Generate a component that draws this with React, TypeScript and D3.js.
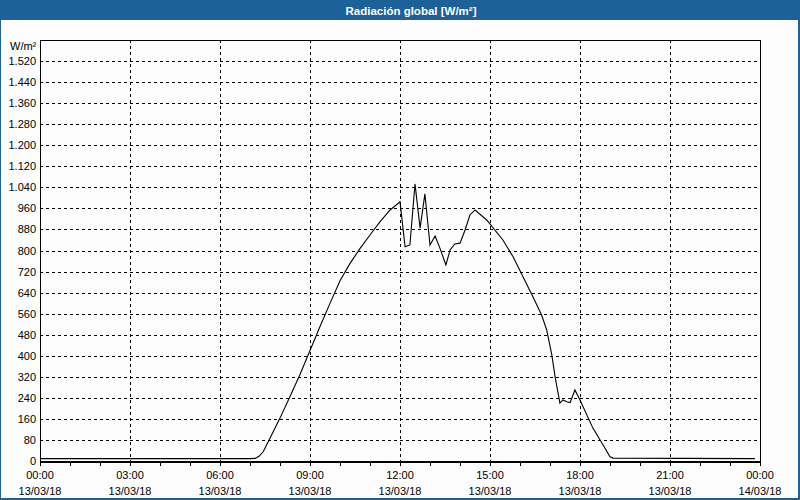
import React from 'react';
import * as d3 from 'd3';

// hours since 00:00 13/03/18
const hours = [
  0, 7.0, 7.17, 7.3, 7.44, 7.67, 8.0, 8.33, 8.67, 9.0, 9.33, 9.67, 10.0, 10.33, 10.67,
  11.0, 11.33, 11.67, 12.0, 12.17, 12.33, 12.5, 12.67, 12.83, 13.0, 13.17, 13.33, 13.53,
  13.67, 13.83, 14.0, 14.17, 14.33, 14.5, 14.89, 15.43, 15.77, 16.1, 16.43, 16.72, 16.89,
  17.06, 17.17, 17.33, 17.43, 17.56, 17.67, 17.83, 18.0, 18.43, 18.77, 19.0, 19.1, 23.83,
];
const radiation = [
  9, 9, 10, 18, 35, 87, 163, 244, 330, 420, 510, 600, 685, 750, 808,
  859, 909, 954, 985, 814, 821, 1053, 885, 1015, 821, 855, 809, 745,
  802, 825, 828, 878, 935, 954, 916, 840, 776, 700, 624, 555, 498,
  403, 320, 220, 232, 225, 222, 270, 232, 125, 61, 16, 11, 9,
];

const xTickHours = [0, 3, 6, 9, 12, 15, 18, 21, 24];
const xTickTimes = ['00:00', '03:00', '06:00', '09:00', '12:00', '15:00', '18:00', '21:00', '00:00'];
const xTickDates = ['13/03/18', '13/03/18', '13/03/18', '13/03/18', '13/03/18', '13/03/18', '13/03/18', '13/03/18', '14/03/18'];

const title = 'Radiación global [W/m²]';
const unit = 'W/m²';

const W = 800;
const H = 500;
const margin = { left: 40, right: 760, top: 40, bottom: 461 };
const blue = '#1c6197';
const font = '"Liberation Sans", Arial, sans-serif';

const esFormat = d3.formatLocale({ decimal: ',', thousands: '.', grouping: [3], currency: ['', '€'] }).format(',');

export default function App() {
  const x = d3.scaleLinear().domain([0, 24]).range([margin.left, margin.right]);
  const y = d3.scaleLinear().domain([0, 1600]).range([margin.bottom, margin.top]);

  const yTicks = d3.range(0, 1600, 80);
  const hourTicks = d3.range(0, 25, 1);

  const line = d3.line<number>()
    .x((_, i) => x(hours[i]))
    .y(d => y(d));

  return (
    <svg width={W} height={H} style={{ position: 'fixed', left: 0, top: 0 }} fontFamily={font}>
      <rect x={0} y={0} width={W} height={H} fill={blue} />
      <rect x={1} y={20} width={797} height={478} fill="#fcfdfc" />
      <text x={411} y={14.5} textAnchor="middle" fill="#fff" fontWeight="bold" fontSize={11.5}>{title}</text>

      {/* grid */}
      <g stroke="#000" strokeDasharray="3,3" shapeRendering="crispEdges">
        {yTicks.filter(t => t > 0).map(t => (
          <line key={'h' + t} x1={margin.left} x2={margin.right} y1={Math.round(y(t)) + 0.5} y2={Math.round(y(t)) + 0.5} />
        ))}
        {xTickHours.filter(h => h > 0 && h < 24).map(h => (
          <line key={'v' + h} x1={x(h) + 0.5} x2={x(h) + 0.5} y1={margin.top} y2={margin.bottom} />
        ))}
      </g>

      {/* frame */}
      <g stroke="#000" fill="none" shapeRendering="crispEdges">
        <rect x={margin.left + 0.5} y={margin.top + 0.5} width={margin.right - margin.left} height={margin.bottom - margin.top} />
        <line x1={margin.left} x2={margin.right + 1} y1={margin.bottom + 1.5} y2={margin.bottom + 1.5} />
        {hourTicks.map(h => (
          <line key={'t' + h} x1={x(h) + 0.5} x2={x(h) + 0.5} y1={margin.bottom} y2={margin.bottom + 5} />
        ))}
      </g>

      {/* series */}
      <path d={line(radiation) || ''} fill="none" stroke="#000" strokeWidth={1.1} />

      {/* y labels */}
      <g fontSize={11} fill="#000" textAnchor="end">
        {yTicks.map(t => (
          <text key={'yl' + t} x={36} y={y(t) + 4}>{esFormat(t)}</text>
        ))}
      </g>
      <text x={10} y={50} fontSize={11}>{unit}</text>

      {/* x labels */}
      <g fontSize={11} fill="#000" textAnchor="middle">
        {xTickHours.map((h, i) => (
          <g key={'xl' + i}>
            <text x={x(h)} y={479}>{xTickTimes[i]}</text>
            <text x={x(h)} y={495}>{xTickDates[i]}</text>
          </g>
        ))}
      </g>
    </svg>
  );
}
